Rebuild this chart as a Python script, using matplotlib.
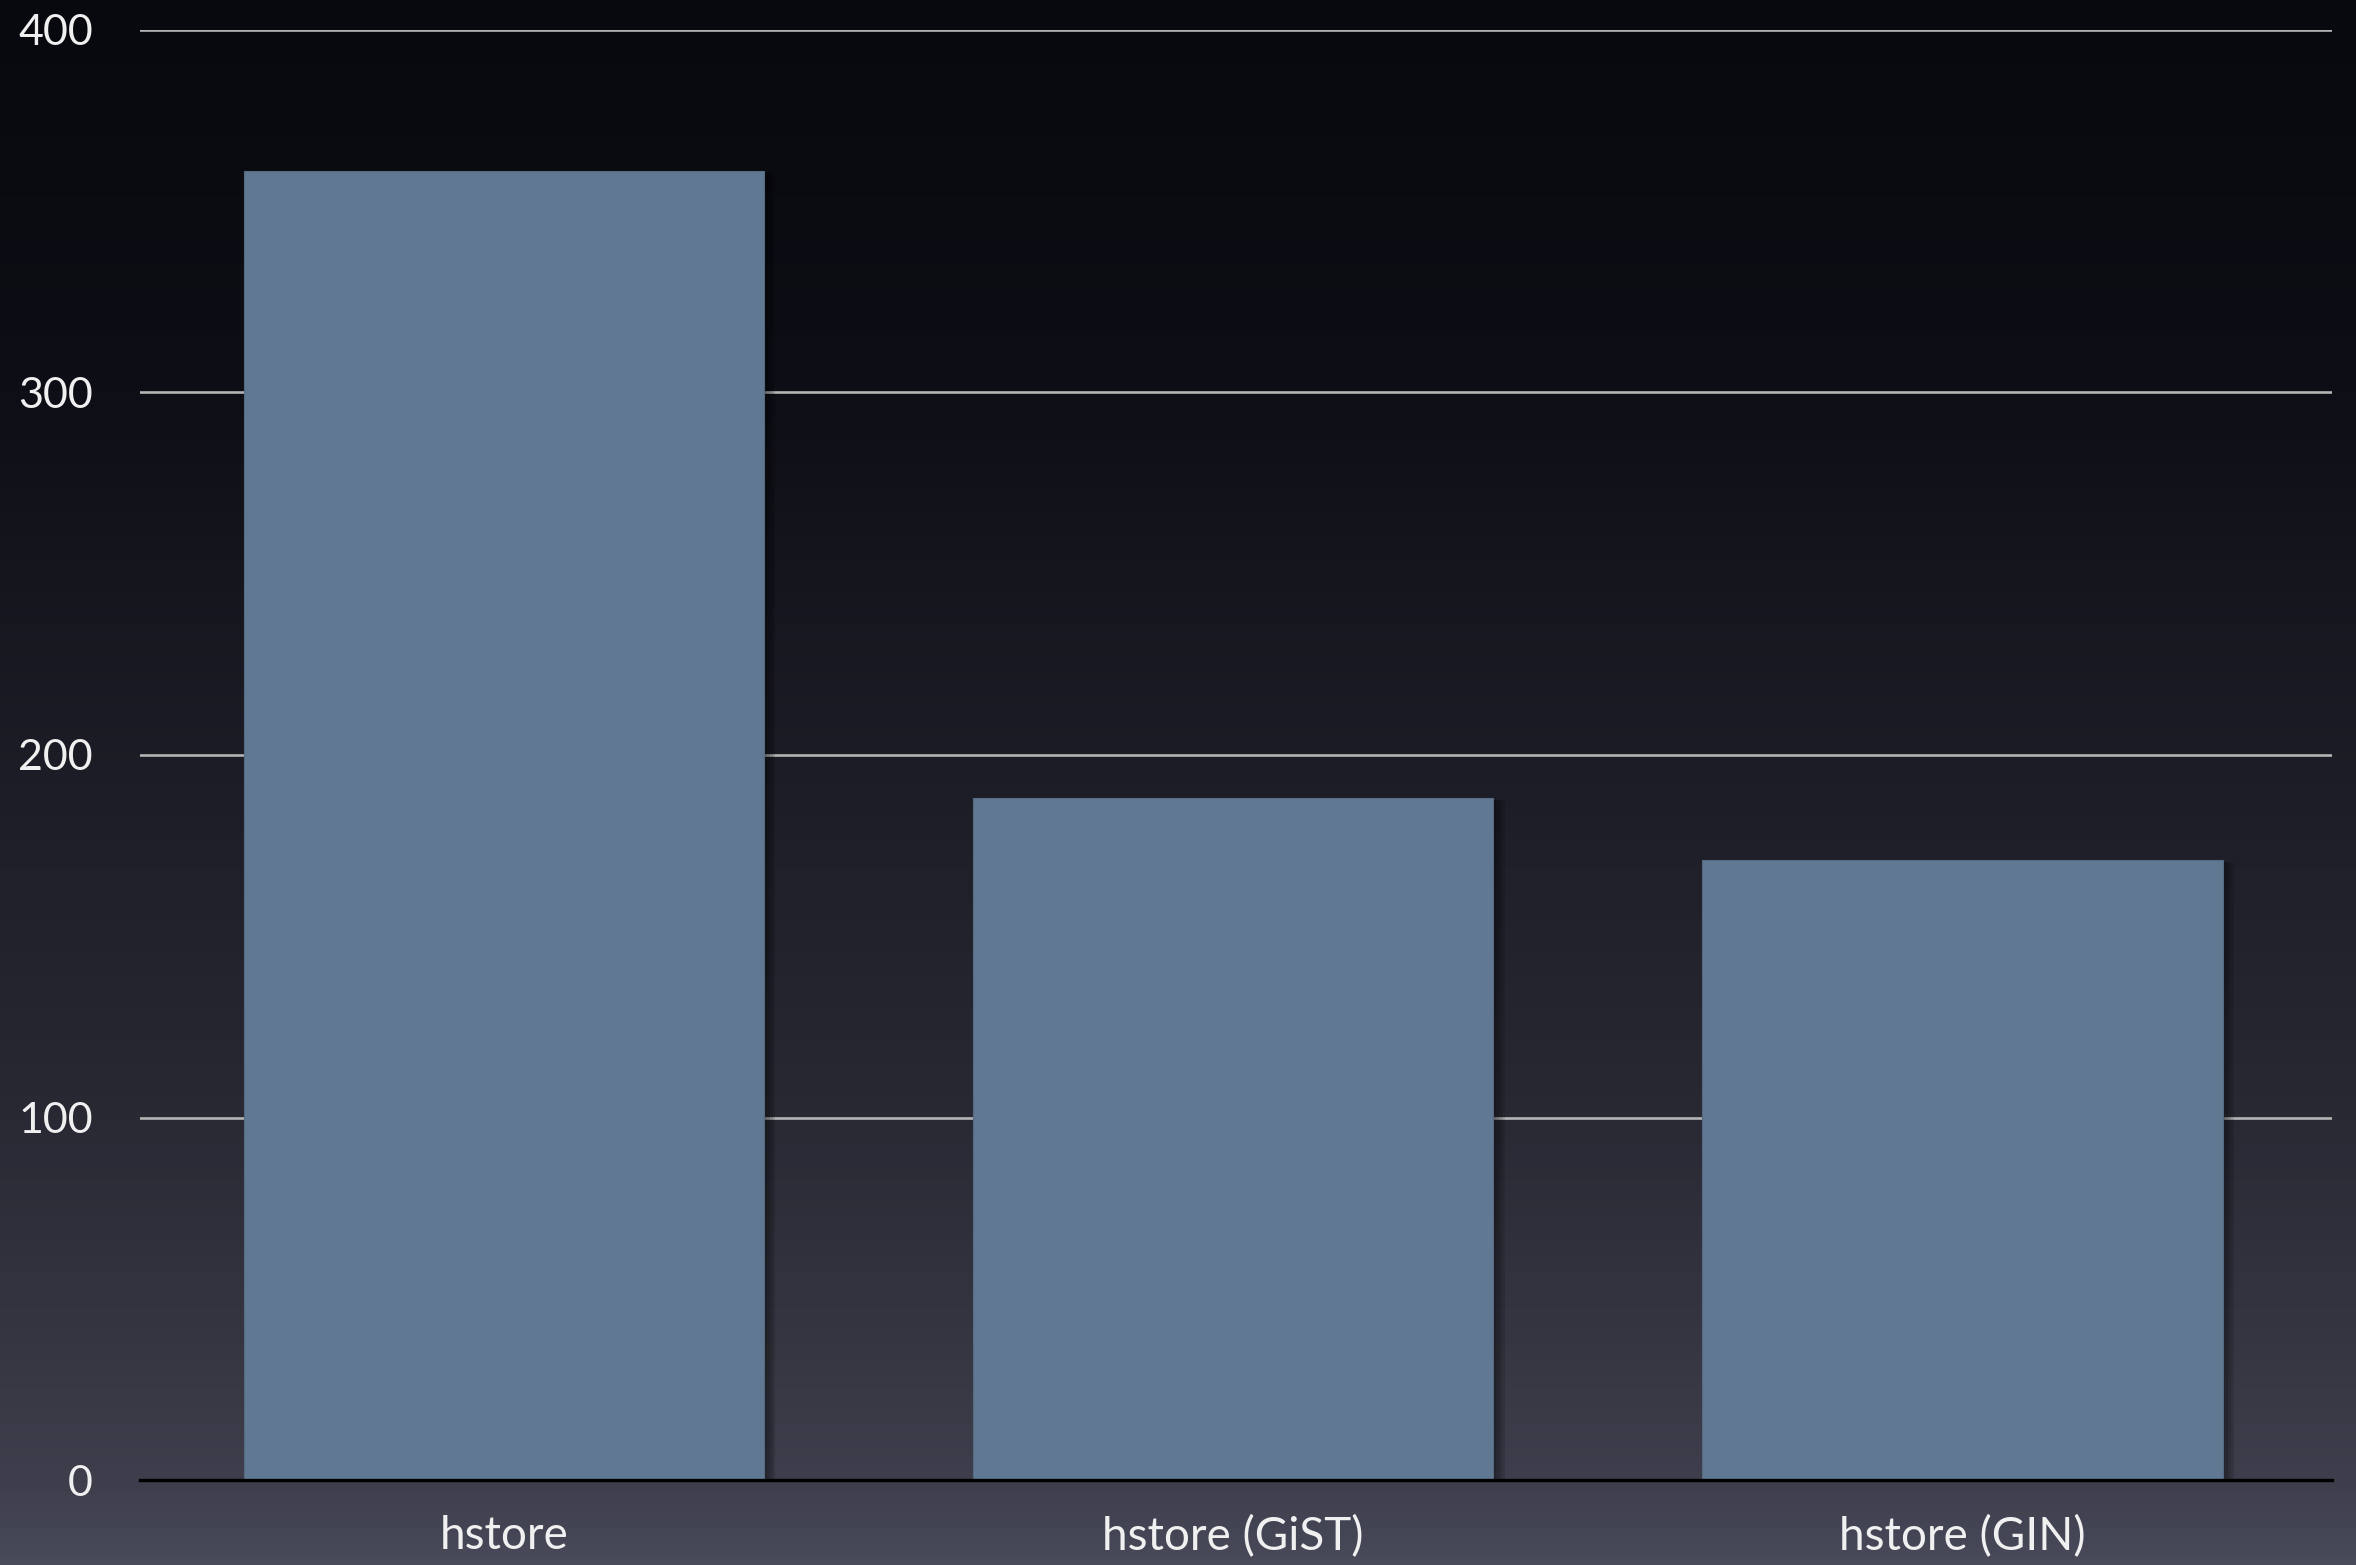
import numpy as np
import matplotlib
matplotlib.use("Agg")
import matplotlib.pyplot as plt
from matplotlib.colors import LinearSegmentedColormap
import matplotlib.patheffects as pe

# Data
categories = ["hstore", "hstore (GiST)", "hstore (GIN)"]
values = [361, 188, 171]
y_ticks = [0, 100, 200, 300, 400]

plt.rcParams["font.family"] = ["Lato", "DejaVu Sans"]

fig = plt.figure(figsize=(23.56, 15.65), dpi=100)

# Vertical background gradient (dark at top, slate grey at bottom)
bg = fig.add_axes([0, 0, 1, 1], zorder=-10)
bg_cmap = LinearSegmentedColormap.from_list(
    "bg",
    [(0.0, "#08090e"), (0.25, "#0e0f16"), (0.5, "#1c1d26"),
     (0.7, "#282833"), (0.95, "#3e3e4c"), (1.0, "#494a5a")],
)
grad = np.linspace(0, 1, 512).reshape(-1, 1)
bg.imshow(grad, aspect="auto", cmap=bg_cmap, extent=[0, 1, 1, 0])
bg.set_axis_off()

ax = fig.add_axes([140 / 2356, 1 - 1480 / 1565, (2332 - 140) / 2356, (1480 - 30) / 1565])
ax.set_facecolor("none")

x = np.arange(len(categories))
bars = ax.bar(x, values, width=0.714, color="#617893", zorder=3,
              edgecolor="#566b82", linewidth=0.8)
# soft drop shadow to the right of each bar
shadow = [pe.SimplePatchShadow(offset=(o, -1), shadow_rgbFace="black", alpha=0.12)
          for o in (2, 4, 6, 8)]
for b in bars:
    b.set_path_effects(shadow + [pe.Normal()])

ax.set_xlim(-0.499, 2.507)
ax.set_ylim(0, 400)
ax.set_yticks(y_ticks)
ax.set_xticks(x)
ax.set_xticklabels(categories)

for s in ax.spines.values():
    s.set_visible(False)

ax.yaxis.grid(True, color="#b4b4b4", linewidth=1.9, zorder=1)
ax.set_axisbelow(True)
ax.axhline(0, color="black", linewidth=2.4, zorder=4, clip_on=False)

ax.tick_params(axis="both", length=0, colors="#f0f0f0")
ax.tick_params(axis="y", pad=34, labelsize=31)
ax.tick_params(axis="x", pad=25, labelsize=33)

fig.savefig("out.png", dpi=100)
